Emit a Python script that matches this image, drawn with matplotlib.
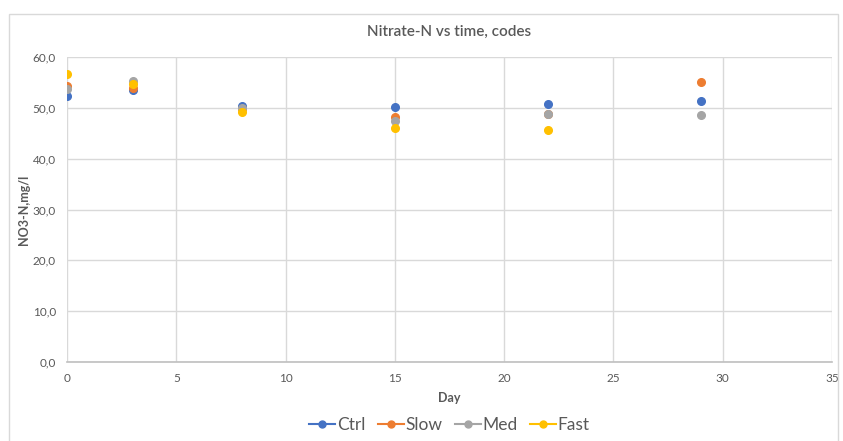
import matplotlib.pyplot as plt
from matplotlib.patches import Rectangle

plt.rcParams['font.family'] = ['Lato', 'DejaVu Sans']

# values
days = [0, 3, 8, 15, 22, 29]
ctrl = [52.3, 53.6, 50.4, 50.2, 50.8, 51.4]
slow = [54.3, 54.0, 49.8, 48.1, 48.7, 55.0]
med = [53.7, 55.2, 49.9, 47.4, 48.7, 48.6]
fast = [56.7, 54.7, 49.2, 46.1, 45.6, None]

series = [("Ctrl", ctrl, "#4472C4"), ("Slow", slow, "#ED7D31"),
          ("Med", med, "#A5A5A5"), ("Fast", fast, "#FFC000")]

fig = plt.figure(figsize=(8.43, 4.41), dpi=100)
fig.patches.append(Rectangle((9 / 843, -0.01), 829 / 843, 431 / 441, transform=fig.transFigure,
                             fill=False, edgecolor="#D9D9D9", linewidth=1))
ax = fig.add_axes([67 / 843, 79 / 441, 765 / 843, 305 / 441])

for name, vals, col in series:
    xs = [d for d, v in zip(days, vals) if v is not None]
    ys = [v for v in vals if v is not None]
    ax.plot(xs, ys, linestyle="none", marker="o", markersize=5.5, color=col, zorder=3)
    # legend proxy with line + marker
    ax.plot([], [], marker="o", markersize=5, color=col, linewidth=1.5, label=name)

ax.set_xlim(0, 35)
ax.set_ylim(0, 60)
ax.set_xticks(range(0, 36, 5))
ax.set_yticks(range(0, 61, 10))
ax.set_yticklabels([f"{v},0" for v in range(0, 61, 10)])
ax.grid(True, color="#D9D9D9", linewidth=1)
ax.set_axisbelow(True)
for s in ["top", "right", "left"]:
    ax.spines[s].set_visible(False)
ax.spines["bottom"].set_color("#BFBFBF")
ax.spines["bottom"].set_linewidth(1.2)
ax.tick_params(length=0, labelsize=8.5, labelcolor="#595959", pad=8)

ax.set_title("Nitrate-N vs time, codes", fontsize=11, fontweight="semibold",
             color="#595959", pad=15)
ax.set_xlabel("Day", fontsize=9, fontweight="bold", color="#595959", labelpad=6)
ax.set_ylabel("NO3-N,mg/l", fontsize=9, fontweight="bold", color="#595959")
ax.yaxis.set_label_coords(-0.049, 0.5)

ax.legend(loc="upper center", bbox_to_anchor=(0.5, -0.13), ncol=4, frameon=False,
          fontsize=12.5, handlelength=1.5, handletextpad=0.1, columnspacing=0.7,
          labelcolor="#595959")

fig.savefig("out.png", dpi=100)
